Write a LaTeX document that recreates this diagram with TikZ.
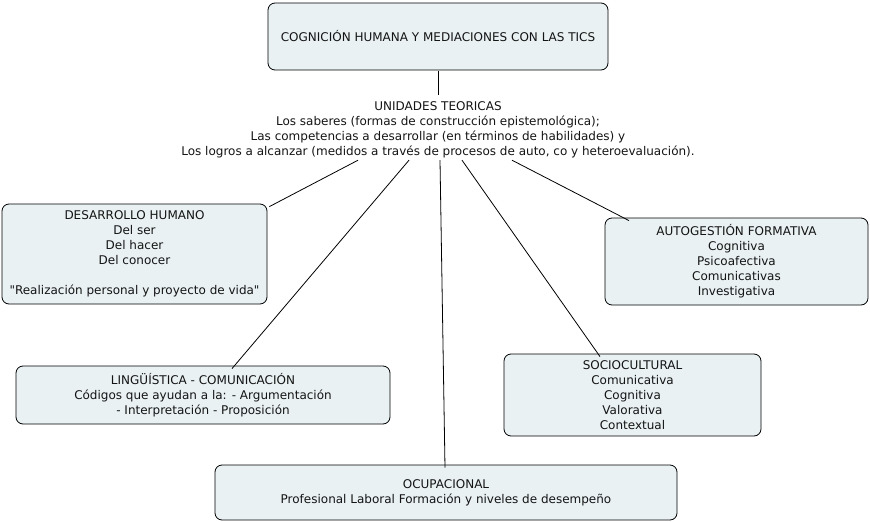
\documentclass[tikz,border=0pt]{standalone}
\usepackage{fontspec}
\setmainfont{DejaVu Sans}[Ligatures=TeXOff]
\definecolor{boxfill}{RGB}{233,241,243}
\definecolor{txt}{RGB}{20,20,20}
\begin{document}
\begin{tikzpicture}[x=1pt,y=-1pt,
  every node/.style={font=\fontsize{12}{15}\selectfont, text=txt, align=center},
  cbox/.style={draw=black, fill=boxfill, rounded corners=7pt, line width=0.8pt, inner sep=0pt},
  link/.style={draw=black, line width=0.8pt}]
\useasboundingbox (0,0) rectangle (870,522);
\node[cbox, minimum width=340, minimum height=67] (top) at (438,36.5) {COGNICIÓN HUMANA Y MEDIACIONES CON LAS TICS};
\node[inner sep=0pt, minimum height=64] (unid) at (438,130) {UNIDADES TEORICAS\\Los saberes (formas de construcción epistemológica);\\Las competencias a desarrollar (en términos de habilidades) y\\Los logros a alcanzar (medidos a través de procesos de auto, co y heteroevaluación).};
\node[cbox, minimum width=265, minimum height=100] (desh) at (134.5,254) {DESARROLLO HUMANO\\Del ser\\Del hacer\\Del conocer\\[15pt]"Realización personal y proyecto de vida"};
\node[cbox, minimum width=263, minimum height=87] (auto) at (736.5,261.5) {AUTOGESTIÓN FORMATIVA\\Cognitiva\\Psicoafectiva\\Comunicativas\\Investigativa};
\node[cbox, minimum width=374, minimum height=58] (ling) at (203,395) {LINGÜÍSTICA - COMUNICACIÓN\\Códigos que ayudan a la: - Argumentación\\- Interpretación - Proposición};
\node[cbox, minimum width=257, minimum height=82] (socio) at (632.5,395) {SOCIOCULTURAL\\Comunicativa\\Cognitiva\\Valorativa\\Contextual};
\node[cbox, minimum width=462, minimum height=55] (ocup) at (446,492.5) {OCUPACIONAL\\Profesional Laboral Formación y niveles de desempeño};
\draw[link] ([yshift=-1pt]top.south) -- ([yshift=3pt]unid.north);
\draw[link] ([xshift=-80pt,yshift=2pt]unid.south) -- ([shift={(2pt,-3pt)}]desh.north east);
\draw[link] ([xshift=-29pt,yshift=2pt]unid.south) -- ([shift={(29pt,-3pt)}]ling.north);
\draw[link] ([xshift=2pt,yshift=2pt]unid.south) -- ([shift={(-1pt,-3pt)}]ocup.north);
\draw[link] ([xshift=24pt,yshift=2pt]unid.south) -- ([shift={(-32.5pt,-3pt)}]socio.north);
\draw[link] ([xshift=74pt,yshift=2pt]unid.south) -- ([shift={(-107.5pt,-3pt)}]auto.north);
\end{tikzpicture}
\end{document}
